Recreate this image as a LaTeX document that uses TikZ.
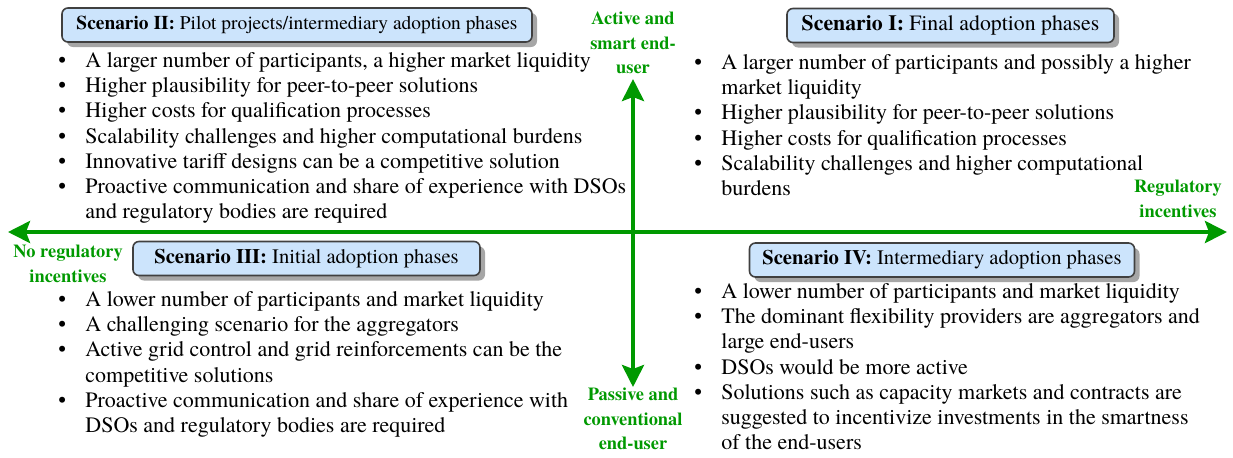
\documentclass[tikz,border=0pt]{standalone}
\usepackage{fontspec}
\setmainfont{texgyretermes}[Extension=.otf, UprightFont=*-regular, BoldFont=*-bold, ItalicFont=*-italic, BoldItalicFont=*-bolditalic]
\usetikzlibrary{shadows}
\usetikzlibrary{arrows.meta}
\usepackage{xcolor}
\definecolor{axisgreen}{RGB}{0,153,0}
\definecolor{boxblue}{RGB}{204,228,252}
\newcommand{\bul}{\strut\makebox[13.5pt][l]{\textbullet}}
\newcommand{\ind}{\hspace*{13.5pt}}

\begin{document}
\begin{tikzpicture}[x=0.5pt,y=-0.5pt,
  axis/.style={axisgreen, line width=2pt, {Stealth[length=11pt,width=11pt,inset=2pt]}-{Stealth[length=11pt,width=11pt,inset=2pt]}},
  axislabel/.style={axisgreen, font=\fontsize{9.2}{12.2}\selectfont\bfseries, align=center, inner sep=0pt},
  scenbox/.style={draw=black!75, line width=0.8pt, fill=boxblue, rounded corners=3pt, minimum height=17pt, inner sep=0pt, drop shadow={shadow xshift=2.5pt, shadow yshift=-2.5pt, fill=black!35, opacity=1}},
  itemlist/.style={align=left, inner sep=0pt, anchor=north west, font=\fontsize{11}{12.6}\selectfont}]
\useasboundingbox (0,0) rectangle (1233,457);

% axes
\coordinate (west) at (8,232);
\coordinate (east) at (1227,232);
\coordinate (north) at (633,79);
\coordinate (south) at (633,387);
\draw[axis] (west) -- (east);
\draw[axis] (south) -- (north);

\node[axislabel] (lblactive) at (633,43) {Active and\\smart end-\\user};
\node[axislabel] (lblpassive) at (633,419) {Passive and\\conventional\\end-user};
\node[axislabel] (lblreg) at (1178,199) {Regulatory\\incentives};
\node[axislabel] (lblnoreg) at (68,264) {No regulatory\\incentives};

% scenario titles
\node[scenbox, minimum width=235pt, font=\fontsize{9.7}{12}\selectfont] (scenII) at (297,25) {\textbf{Scenario II:} Pilot projects/intermediary adoption phases};
\node[scenbox, minimum width=163.5pt, font=\fontsize{10.9}{12}\selectfont] (scenI) at (950.5,25.5) {\textbf{Scenario I:} Final adoption phases};
\node[scenbox, minimum width=173.5pt, font=\fontsize{10.3}{12}\selectfont] (scenIII) at (306.5,258.5) {\textbf{Scenario III:} Initial adoption phases};
\node[scenbox, minimum width=192.5pt, font=\fontsize{10.3}{12}\selectfont] (scenIV) at (942,260) {\textbf{Scenario IV:} Intermediary adoption phases};

% lists
\node[itemlist] (listII) at (58,49.5) {\bul A larger number of participants, a higher market liquidity\\
\bul Higher plausibility for peer-to-peer solutions\\
\bul Higher costs for qualification processes\\
\bul Scalability challenges and higher computational burdens\\
\bul Innovative tariff designs can be a competitive solution\\
\bul Proactive communication and share of experience with DSOs\\
\ind and regulatory bodies are required};

\node[itemlist] (listI) at (694,51.5) {\bul A larger number of participants and possibly a higher\\
\ind market liquidity\\
\bul Higher plausibility for peer-to-peer solutions\\
\bul Higher costs for qualification processes\\
\bul Scalability challenges and higher computational\\
\ind burdens};

\node[itemlist] (listIII) at (58,288.5) {\bul A lower number of participants and market liquidity\\
\bul A challenging scenario for the aggregators\\
\bul Active grid control and grid reinforcements can be the\\
\ind competitive solutions\\
\bul Proactive communication and share of experience with\\
\ind DSOs and regulatory bodies are required};

\node[itemlist] (listIV) at (694,280.5) {\bul A lower number of participants and market liquidity\\
\bul The dominant flexibility providers are aggregators and\\
\ind large end-users\\
\bul DSOs would be more active\\
\bul Solutions such as capacity markets and contracts are\\
\ind suggested to incentivize investments in the smartness\\
\ind of the end-users};
\end{tikzpicture}
\end{document}
